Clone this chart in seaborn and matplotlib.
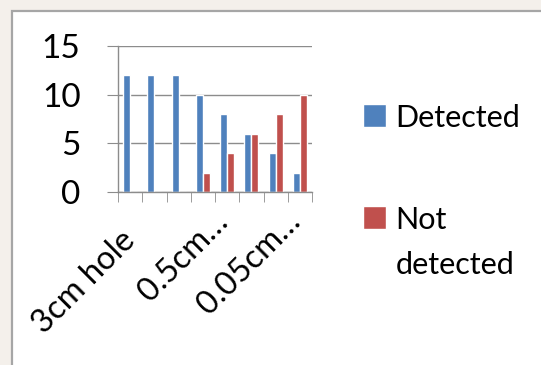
import pandas as pd
import matplotlib.pyplot as plt
import matplotlib.transforms as mtransforms
from matplotlib.patches import Rectangle
import seaborn as sns

# data
categories = ['3cm hole', '2cm hole', '1cm hole', '0.5cm hole', '0.3cm hole',
              '0.1cm hole', '0.05cm hole', '0.01cm hole']
detected = [12, 12, 12, 10, 8, 6, 4, 2]
not_detected = [0, 0, 0, 2, 4, 6, 8, 10]
shown_labels = ['3cm hole', '', '', '0.5cm…', '', '', '0.05cm…', '']
series_names = ['Detected', 'Not detected']
legend_labels = ['Detected', 'Not\ndetected']

df = pd.DataFrame({
    'category': categories * 2,
    'status': [series_names[0]] * len(categories) + [series_names[1]] * len(categories),
    'count': detected + not_detected,
})

sns.set_style('white')
plt.rcParams['font.family'] = ['Lato', 'DejaVu Sans']
plt.rcParams['text.color'] = 'black'

fig = plt.figure(figsize=(5.41, 3.65), dpi=100)
fig.patch.set_facecolor('#f4f0eb')
# white chart area with grey frame
fig.patches.append(Rectangle((12 / 541, -0.05), 1.0, 1 - 11 / 365 + 0.05,
                             transform=fig.transFigure, facecolor='white',
                             edgecolor='#a6a6a6', linewidth=1.6, zorder=-10))

ax = fig.add_axes([118 / 541, 1 - 192 / 365, 194 / 541, 146 / 365])
ax.set_facecolor('none')
sns.barplot(data=df, x='category', y='count', hue='status',
            palette=['#4f81bd', '#c0504d'], width=0.58, saturation=1,
            ax=ax, legend=True)
handles, _ = ax.get_legend_handles_labels()
ax.get_legend().remove()

gridc = '#8c8c8c'
ax.set_ylim(0, 15)
ax.set_xlim(-0.5, len(categories) - 0.5)
ax.set_yticks([0, 5, 10, 15])
ax.yaxis.grid(True, color=gridc, linewidth=1)
ax.set_axisbelow(True)
for s in ['top', 'right']:
    ax.spines[s].set_visible(False)
for s in ['left', 'bottom']:
    ax.spines[s].set_color(gridc)
    ax.spines[s].set_linewidth(1)
ax.set_xlabel('')
ax.set_ylabel('')
ax.tick_params(axis='y', length=8, color=gridc, labelcolor='black', pad=19,
               labelsize=24, left=True)
ax.set_xticks([i - 0.5 for i in range(len(categories) + 1)], minor=True)
ax.tick_params(axis='x', which='minor', length=7, color=gridc, bottom=True)
ax.set_xticks(range(len(categories)))
ax.set_xticklabels(shown_labels)
ax.tick_params(axis='x', which='major', length=0, pad=0, labelsize=23.5,
               labelcolor='black')

# label offsets in pixels (right, down) from the category centre
offsets = [(7, 50), (0, 0), (0, 0), (27, 31), (0, 0), (0, 0), (26, 31), (0, 0)]
for lab, (dx, dy) in zip(ax.get_xticklabels(), offsets):
    lab.set_rotation(45)
    lab.set_ha('right')
    lab.set_va('baseline')
    lab.set_rotation_mode('anchor')
    lab.set_transform(lab.get_transform() +
                      mtransforms.ScaledTranslation(dx / 100, -dy / 100, fig.dpi_scale_trans))

leg = fig.legend(handles, legend_labels, loc='upper left',
                 bbox_to_anchor=(348 / 541, 1 - 89 / 365), frameon=False,
                 fontsize=22, handlelength=0.75, handleheight=0.75,
                 handletextpad=0.3, labelspacing=2.42, borderpad=0)
for t in leg.get_texts():
    t.set_linespacing(1.75)
# put the colour box next to the first line of a wrapped label
for col in leg._legend_handle_box.get_children():
    for row in col.get_children():
        row.align = 'top'

fig.savefig('out.png', dpi=100, facecolor=fig.get_facecolor())
